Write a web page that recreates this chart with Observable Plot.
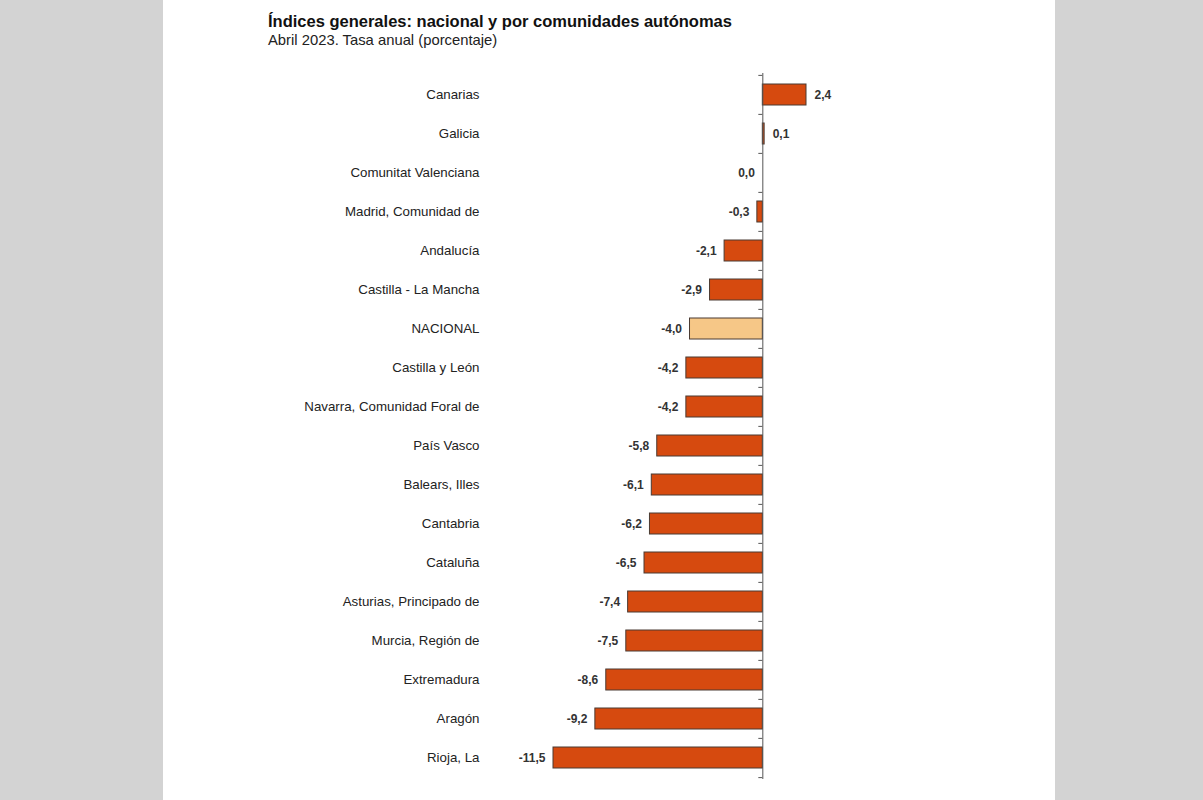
<!DOCTYPE html>
<html>
<head>
<meta charset="utf-8">
<script src="https://cdn.jsdelivr.net/npm/d3@7"></script>
<script src="https://cdn.jsdelivr.net/npm/@observablehq/plot@0.6"></script>
<style>
  html, body { margin: 0; padding: 0; background: #d3d3d3; width: 1203px; height: 800px; overflow: hidden; }
  #panel { position: absolute; left: 163px; top: 0; width: 892px; height: 800px; background: #fff; }
  #title { position: absolute; left: 105px; top: 12px; font-family: "Liberation Sans", Arial, sans-serif; font-weight: bold; font-size: 16.5px; color: #111; white-space: nowrap; }
  #subtitle { position: absolute; left: 105px; top: 32px; font-family: "Liberation Sans", Arial, sans-serif; font-size: 14.8px; color: #222; white-space: nowrap; }
  #chart { position: absolute; left: 0; top: 60px; }
</style>
</head>
<body>
<div id="panel">
  <div id="title">Índices generales: nacional y por comunidades autónomas</div>
  <div id="subtitle">Abril 2023. Tasa anual (porcentaje)</div>
  <div id="chart"></div>
</div>
<script>
const regions = ["Canarias","Galicia","Comunitat Valenciana","Madrid, Comunidad de","Andalucía","Castilla - La Mancha","NACIONAL","Castilla y León","Navarra, Comunidad Foral de","País Vasco","Balears, Illes","Cantabria","Cataluña","Asturias, Principado de","Murcia, Región de","Extremadura","Aragón","Rioja, La"];
const values = [2.4, 0.1, 0.0, -0.3, -2.1, -2.9, -4.0, -4.2, -4.2, -5.8, -6.1, -6.2, -6.5, -7.4, -7.5, -8.6, -9.2, -11.5];
const highlight = "NACIONAL";

const data = regions.map((r, i) => ({region: r, value: values[i]}));
const fmt = v => v.toFixed(1).replace(".", ",");

const width = 892, height = 731;
const marginTop = 13, marginBottom = 12, marginLeft = 390, marginRight = 249;
const frameH = height - marginTop - marginBottom;
const step = frameH / regions.length;
const xMin = d3.min(values), xMax = d3.max(values);
const pxPerUnit = (width - marginLeft - marginRight) / (xMax - xMin);
const tickLen = 4 / pxPerUnit;

const chart = Plot.plot({
  width, height, marginTop, marginBottom, marginLeft, marginRight,
  style: {fontFamily: "Liberation Sans, Arial, sans-serif", fontSize: "13px", color: "#222", background: "transparent"},
  x: {domain: [xMin, xMax], axis: null},
  y: {domain: regions, paddingInner: 0.47, paddingOuter: 0.235, label: null},
  marks: [
    Plot.axisY({tickSize: 0, tickPadding: 74, fontSize: 13.3, fill: "#222"}),
    Plot.barX(data, {
      y: "region", x: "value",
      fill: d => d.region === highlight ? "#f6c787" : "#d64a0f",
      stroke: "#4a3b33", strokeWidth: 1
    }),
    Plot.ruleX([0], {stroke: "#555", strokeWidth: 1}),
    Plot.ruleY(regions, {y: d => d, x1: -tickLen, x2: 0, dy: -step / 2, stroke: "#555"}),
    Plot.ruleY([regions[regions.length - 1]], {y: d => d, x1: -tickLen, x2: 0, dy: step / 2, stroke: "#555"}),
    Plot.text(data.filter(d => d.value > 0), {
      y: "region", x: "value", text: d => fmt(d.value),
      textAnchor: "start", dx: 8, fontSize: 12, fontWeight: "bold", fill: "#333"
    }),
    Plot.text(data.filter(d => d.value <= 0), {
      y: "region", x: "value", text: d => fmt(d.value),
      textAnchor: "end", dx: -8, fontSize: 12, fontWeight: "bold", fill: "#333"
    })
  ]
});
document.getElementById("chart").appendChild(chart);
</script>
</body>
</html>
